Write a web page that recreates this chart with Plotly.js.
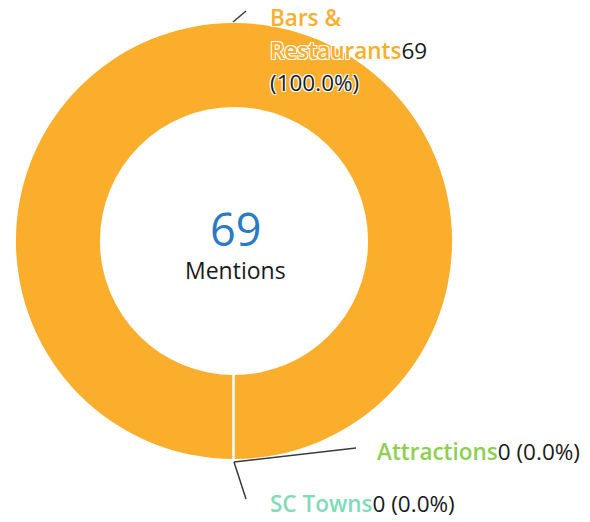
<!DOCTYPE html>
<html>
<head>
<meta charset="utf-8">
<script src="https://cdn.plot.ly/plotly-3.0.1.min.js"></script>
<style>html,body{margin:0;padding:0;background:#fff;}#chart{width:590px;height:522px;}</style>
</head>
<body>
<div id="chart"></div>
<script>
// ---- data ----
const categories = ["Bars & Restaurants", "Attractions", "SC Towns"];
const mentions = [69, 0, 0];
const sliceColors = ["#FBAE2C", "#8DCF50", "#80DCB8"];
const centerLabel = "Mentions";

// ---- layout helpers ----
const W = 590, H = 522;
const px = x => x / W;
const py = y => 1 - y / H;
const cx = 234, cy = 241, R = 218, HOLE = 0.615;

const total = mentions.reduce((a, b) => a + b, 0);
const pct = v => (total ? (100 * v / total) : 0).toFixed(1) + "%";
const esc = s => s.replace(/&/g, "&amp;");
const name = (s, c) => `<span style="font-weight:600;color:${c}">${esc(s)}</span>`;

const labelFont = {family: "Open Sans, DejaVu Sans, sans-serif", size: 22.5, weight: 500, color: "#1a1a1a",
  shadow: "1px 1px 0 #fff, -1px -1px 0 #fff, 1px -1px 0 #fff, -1px 1px 0 #fff"};

const trace = {
  type: "pie",
  values: mentions,
  labels: categories,
  marker: {colors: sliceColors, line: {width: 0}},
  hole: HOLE,
  sort: false,
  direction: "clockwise",
  rotation: 180,
  textinfo: "none",
  hoverinfo: "label+value+percent",
  showlegend: false,
  domain: {x: [px(cx - R), px(cx + R)], y: [py(cy + R), py(cy - R)]}
};

const annotations = [];
function ann(x, y, text, font, xanchor) {
  annotations.push({xref: "paper", yref: "paper", x: px(x), y: py(y), text: text,
    showarrow: false, xanchor: xanchor || "left", yanchor: "middle", font: font, align: "left"});
}
// center
ann(cx + 1, 228, String(total), {family: "Open Sans, sans-serif", size: 45, color: "#2A7AC6"}, "center");
ann(cx + 1, 270, centerLabel, {family: "Open Sans, sans-serif", size: 23, color: "#1a1a1a"}, "center");

// top label (first category) split across lines
const firstParts = categories[0].split(/(?<=&) /);
const c0 = sliceColors[0];
ann(268, 18, name(firstParts[0], c0), labelFont);
ann(268, 50, name(firstParts[1], c0) + mentions[0], labelFont);
ann(268, 82, `(${pct(mentions[0])})`, labelFont);
// zero-valued categories
ann(375, 451, name(categories[1], sliceColors[1]) + `${mentions[1]} (${pct(mentions[1])})`, labelFont);
ann(268, 503, name(categories[2], sliceColors[2]) + `${mentions[2]} (${pct(mentions[2])})`, labelFont);

const lineStyle = {color: "#3a3a3a", width: 1.5};
const shapes = [
  // seam at slice start
  {type: "line", xref: "paper", yref: "paper", x0: px(cx - 0.5), x1: px(cx - 0.5),
   y0: py(cy + R * HOLE - 1), y1: py(cy + R + 1), line: {color: "#ffffff", width: 2.5}},
  // leader lines
  {type: "line", xref: "paper", yref: "paper", x0: px(233), y0: py(22), x1: px(246), y1: py(11), line: lineStyle},
  {type: "line", xref: "paper", yref: "paper", x0: px(234), y0: py(462), x1: px(356), y1: py(448), line: lineStyle},
  {type: "line", xref: "paper", yref: "paper", x0: px(234), y0: py(462), x1: px(246), y1: py(499), line: lineStyle}
];

const layout = {
  width: W, height: H,
  margin: {l: 0, r: 0, t: 0, b: 0},
  paper_bgcolor: "#ffffff",
  showlegend: false,
  annotations: annotations,
  shapes: shapes
};

Plotly.newPlot("chart", [trace], layout, {displayModeBar: false, staticPlot: true});
</script>
</body>
</html>
